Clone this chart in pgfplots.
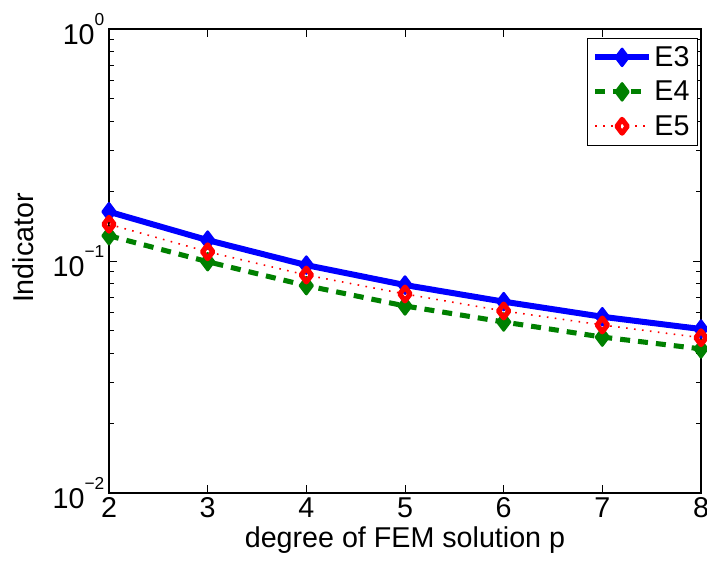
\documentclass[border=0pt]{standalone}
\usepackage{fontspec}
\setmainfont{Liberation Sans}
\usepackage{pgfplots}
\pgfplotsset{compat=1.18}
\definecolor{mgreen}{RGB}{0,128,0}
\newcommand{\bigf}{\fontsize{21.5}{25}\selectfont}
\newcommand{\ex}[1]{10\raisebox{14pt}{\fontsize{13}{13}\selectfont #1}}
\begin{document}
\begin{tikzpicture}
\useasboundingbox (-81.75pt,-53.25pt) rectangle (448.5pt,369.75pt);
\begin{axis}[
 at={(0,0)}, anchor=south west, scale only axis,
 width=444pt, height=348pt,
 ymode=log, xmin=2, xmax=8, ymin=0.01, ymax=1,
 xtick={2,3,4,5,6,7,8},
 ytick={0.01,0.1,1},
 yticklabels={\ex{−2},\ex{−1},\ex{0}},
 tick align=inside,
 major tick length=6pt, minor tick length=3.5pt,
 every tick/.style={black, line width=0.6pt},
 axis line style={line width=0.8pt},
 /pgf/number format/assume math mode=true,
 tick label style={font=\bigf},
 label style={font=\bigf},
 xlabel={degree of FEM solution p},
 ylabel={Indicator},
 every axis x label/.style={at={(axis description cs:0.5,-0.101)}, anchor=center, font=\bigf},
 every axis y label/.style={at={(axis description cs:-0.1453,0.528)}, anchor=center, rotate=90, font=\bigf},
 legend style={at={(rel axis cs:0.995,0.981)}, anchor=north east, draw=black, line width=0.8pt,
   inner xsep=4pt, inner ysep=4pt, row sep=5.5pt, font=\bigf},
 legend cell align=left,
 legend image code/.code={\draw[mark repeat=2,mark phase=2] plot coordinates {(0pt,0pt) (20pt,0pt) (40pt,0pt)};},
]
\addplot[blue, line width=4.5pt, mark=diamond*, mark size=6.3pt, mark options={solid, line join=round, line width=2pt, fill=blue}]
 coordinates {(2,0.163) (3,0.123) (4,0.096) (5,0.0788) (6,0.0668) (7,0.0575) (8,0.0509)};
\addlegendentry{E3}
\addplot[mgreen, line width=3.8pt, dash pattern=on 7.5pt off 6pt, mark=diamond*, mark size=6.3pt, mark options={solid, line join=round, line width=2pt, fill=mgreen}]
 coordinates {(2,0.1285) (3,0.0993) (4,0.0783) (5,0.064) (6,0.0546) (7,0.047) (8,0.0418)};
\addlegendentry{E4}
\addplot[red, line width=1.2pt, dash pattern=on 1.2pt off 4.8pt, mark=diamond, mark size=5.2pt, mark options={solid, line join=round, line width=3.8pt, draw=red, fill=none}]
 coordinates {(2,0.144) (3,0.1096) (4,0.087) (5,0.0721) (6,0.0609) (7,0.053) (8,0.0467)};
\addlegendentry{E5}
\end{axis}
\end{tikzpicture}
\end{document}
